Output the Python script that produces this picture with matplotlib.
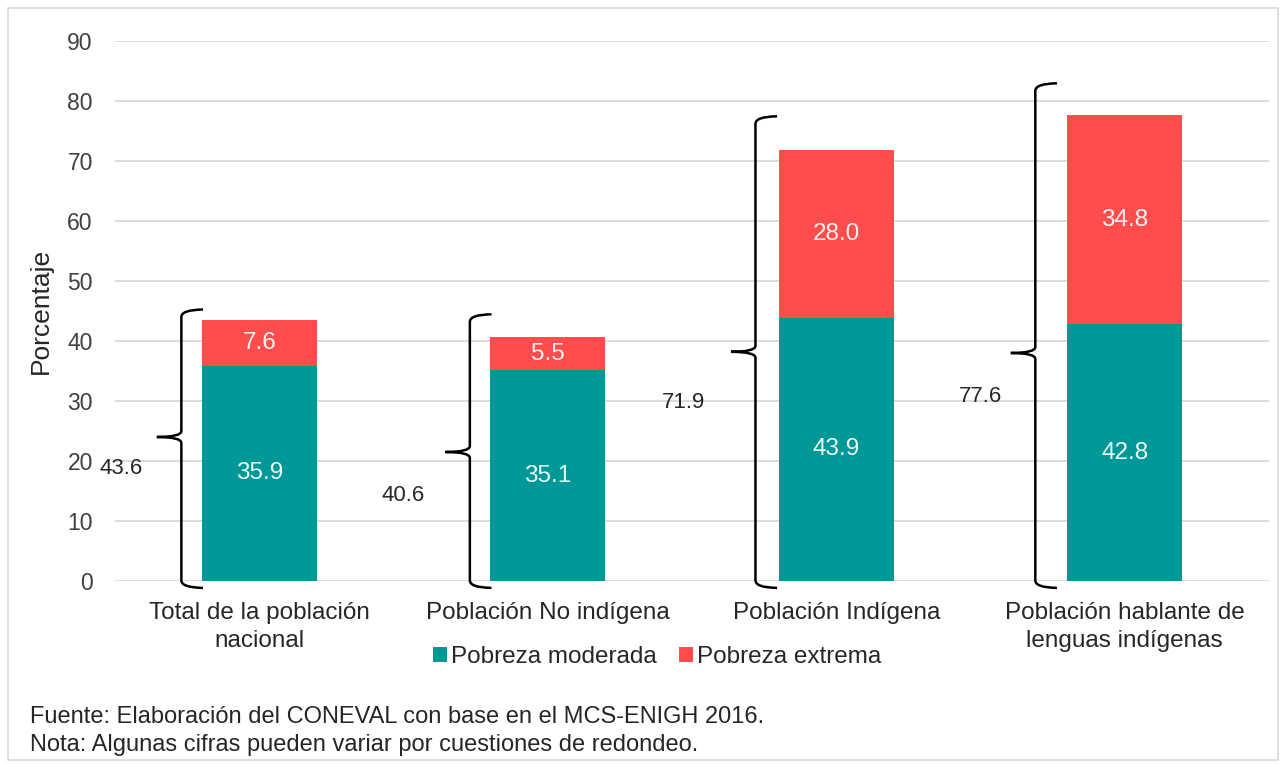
import matplotlib
matplotlib.use('Agg')
import matplotlib.pyplot as plt
from matplotlib.path import Path
from matplotlib.patches import PathPatch, Rectangle
import numpy as np

plt.rcParams['font.family'] = ['Liberation Sans', 'DejaVu Sans']

# datos
categorias = ['Total de la población\nnacional', 'Población No indígena',
              'Población Indígena', 'Población hablante de\nlenguas indígenas']
pobreza_moderada = [35.9, 35.1, 43.9, 42.8]
pobreza_extrema = [7.6, 5.5, 28.0, 34.8]
pobreza_total = [43.6, 40.6, 71.9, 77.6]

# ubicacion de las llaves y totales (colocadas a mano en el original)
llave_arriba = [45.0, 44.2, 77.2, 82.7]
llave_punta = [24.0, 21.5, 38.2, 38.0]
llave_abajo = -0.9
total_y = [18.8, 14.3, 29.7, 30.7]
total_dx = [-0.48, -0.50, -0.53, -0.50]

TEAL = '#009797'
ROJO = '#FF4D4D'

fig = plt.figure(figsize=(12.84, 7.64), dpi=100, facecolor='white')
fig.patches.append(Rectangle((8 / 1284, 4 / 764), 1270 / 1284, 752 / 764,
                             transform=fig.transFigure, fill=False,
                             edgecolor='#d9d9d9', linewidth=1.2))

ax = fig.add_axes([115 / 1284, 1 - 581 / 764, 1154 / 1284, 540 / 764])
x = np.arange(len(categorias))
ancho = 0.40

b1 = ax.bar(x, pobreza_moderada, ancho, color=TEAL, label='Pobreza moderada', zorder=3)
b2 = ax.bar(x, pobreza_extrema, ancho, bottom=pobreza_moderada, color=ROJO,
            label='Pobreza extrema', zorder=3)

for i in range(len(x)):
    ax.text(x[i], pobreza_moderada[i] / 2, f'{pobreza_moderada[i]:.1f}', ha='center',
            va='center', color='#eafcfc', fontsize=17.5, zorder=4)
    ax.text(x[i], pobreza_moderada[i] + pobreza_extrema[i] / 2, f'{pobreza_extrema[i]:.1f}',
            ha='center', va='center', color='#fff0f0', fontsize=17.5, zorder=4)
    ax.text(x[i] + total_dx[i], total_y[i], f'{pobreza_total[i]:.1f}', ha='center',
            va='center', color='#262626', fontsize=16, zorder=4)


def llave(ax, xc, arriba, abajo, punta):
    # llave izquierda "{" con ganchos hacia la derecha
    gx = 0.075   # largo del gancho
    px = 0.085   # largo de la punta
    r = 1.0
    verts = [
        (xc + gx, arriba + 0.25), (xc, arriba + 0.2), (xc, arriba - r),
        (xc, punta + r), (xc, punta), (xc - px, punta),
        (xc, punta), (xc, punta - r),
        (xc, abajo + r), (xc, abajo - 0.2), (xc + gx, abajo - 0.25),
    ]
    codes = [Path.MOVETO, Path.CURVE3, Path.CURVE3,
             Path.LINETO, Path.CURVE3, Path.CURVE3,
             Path.CURVE3, Path.CURVE3,
             Path.LINETO, Path.CURVE3, Path.CURVE3]
    ax.add_patch(PathPatch(Path(verts, codes), fill=False, edgecolor='black',
                           linewidth=1.8, clip_on=False, zorder=5))


llave_dx = [-0.27, -0.27, -0.28, -0.31]
for i in range(len(x)):
    llave(ax, x[i] + llave_dx[i], llave_arriba[i], llave_abajo, llave_punta[i])

ax.set_xlim(-0.5, len(x) - 0.5)
ax.set_ylim(0, 90)
ax.set_yticks(np.arange(0, 91, 10))
ax.yaxis.grid(True, color='#d9d9d9', linewidth=1.3, zorder=0)
ax.set_axisbelow(True)
for s in ax.spines.values():
    s.set_visible(False)
ax.tick_params(axis='y', length=0, pad=16, labelsize=16.5, labelcolor='#404040')
ax.tick_params(axis='x', length=0, pad=15, labelsize=17.5, labelcolor='#262626')
ax.set_xticks(x)
ax.set_xticklabels(categorias, linespacing=1.35)
ax.set_ylabel('Porcentaje', fontsize=19, color='#262626', labelpad=0)
ax.yaxis.set_label_coords(-62 / 1154, 0.5)

fig.legend(handles=[b1, b2], loc='center', bbox_to_anchor=(657 / 1284, 1 - 657 / 764),
           ncol=2, frameon=False, fontsize=17.5, handlelength=0.6, handleheight=0.6,
           handletextpad=0.15, columnspacing=0.9, labelcolor='#262626')

fig.text(30 / 1284, 1 - 717 / 764, 'Fuente: Elaboración del CONEVAL con base en el MCS-ENIGH 2016.',
         fontsize=17, color='#262626', va='center')
fig.text(30 / 1284, 1 - 745 / 764, 'Nota: Algunas cifras pueden variar por cuestiones de redondeo.',
         fontsize=17, color='#262626', va='center')

fig.savefig('out.png', dpi=100, facecolor='white')
